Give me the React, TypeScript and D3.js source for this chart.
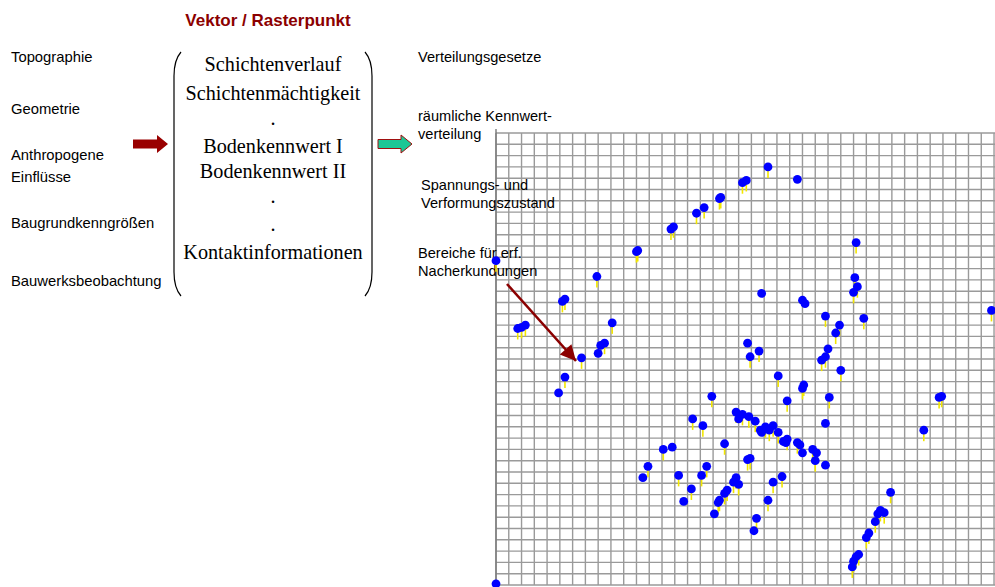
import React from "react";
import * as d3 from "d3";

const title = "Vektor / Rasterpunkt";
const leftLabels = [
  { lines: ["Topographie"], y: 57 },
  { lines: ["Geometrie"], y: 109 },
  { lines: ["Anthropogene", "Einflüsse"], y: 155 },
  { lines: ["Baugrundkenngrößen"], y: 223 },
  { lines: ["Bauwerksbeobachtung"], y: 281 },
];
const bracketItems = [
  { t: "Schichtenverlauf", y: 64 },
  { t: "Schichtenmächtigkeit", y: 93 },
  { t: ".", y: 118 },
  { t: "Bodenkennwert I", y: 146 },
  { t: "Bodenkennwert II", y: 171 },
  { t: ".", y: 196 },
  { t: ".", y: 224 },
  { t: "Kontaktinformationen", y: 252 },
];
const rightLabels = [
  { lines: ["Verteilungsgesetze"], x: 418, y: 57 },
  { lines: ["räumliche Kennwert-", "verteilung"], x: 418, y: 116 },
  { lines: ["Spannungs- und", "Verformungszustand"], x: 421, y: 185 },
  { lines: ["Bereiche für erf.", "Nacherkundungen"], x: 418, y: 253 },
];

// grid units: x columns from left edge, y rows from bottom
const pinX = [0.0, 0.0, 1.7, 2.0, 2.3, 5.2, 5.4, 7.9, 9.1, 8.2, 8.5, 8.0, 6.7, 5.4, 4.9,
  11.0, 11.1, 13.7, 13.9, 15.7, 16.3, 17.5, 17.6, 19.3, 19.6, 21.3, 23.6, 28.2,
  20.8, 24.0, 24.2, 28.1, 28.3, 28.0, 25.8, 26.9, 28.8, 26.6, 19.7, 19.9, 20.6,
  26.0, 25.8, 25.5, 27.0, 22.1, 24.1, 24.0, 26.1, 22.8, 38.8, 34.9, 34.7, 33.5,
  16.9, 15.4, 16.2, 17.9, 18.8, 19.0, 19.3, 19.8, 20.3, 20.7, 20.8, 21.1, 21.4,
  21.7, 22.1, 22.5, 22.7, 22.8, 19.7, 19.9, 25.8, 23.6, 23.8, 24.0, 24.8, 25.1,
  25.0, 25.8, 13.1, 13.8, 11.9, 11.5, 14.3, 16.5, 16.1, 15.3, 14.7, 17.4, 17.5,
  17.9, 18.1, 17.1, 18.6, 18.8, 19.0, 22.4, 21.7, 21.3, 20.4, 20.2,
  30.9, 30.1, 30.4, 29.9, 29.7, 29.2, 29.0, 28.4, 28.2, 28.0, 27.9];
const pinY = [28.7, 0.1, 22.7, 22.8, 23.0, 25.1, 25.3, 27.3, 23.2, 21.2, 21.4, 20.5, 20.1, 18.4, 17.0,
  29.5, 29.6, 31.5, 31.7, 32.9, 33.4, 34.2, 34.3, 35.6, 35.8, 37.0, 35.9, 30.3,
  25.8, 25.2, 24.9, 27.2, 26.4, 25.9, 23.8, 23.0, 23.6, 22.3, 21.4, 20.2, 20.7,
  20.9, 20.2, 19.9, 19.0, 18.5, 17.7, 17.4, 16.6, 16.3, 24.3, 16.7, 16.6, 13.7,
  16.7, 14.7, 14.1, 12.5, 15.3, 14.7, 15.1, 14.9, 14.5, 13.7, 13.5, 14.0, 13.7,
  14.1, 13.5, 12.7, 12.6, 12.9, 11.1, 11.2, 14.3, 12.6, 12.4, 11.7, 12.0, 11.7,
  11.0, 10.6, 12.0, 12.2, 10.5, 9.5, 9.7, 10.5, 9.7, 8.5, 7.4, 7.3, 7.5,
  8.1, 8.4, 6.3, 9.1, 9.5, 8.9, 9.6, 9.1, 7.5, 5.9, 4.8,
  8.2, 6.6, 6.4, 6.3, 5.6, 4.6, 4.2, 2.7, 2.5, 2.1, 1.6];
const pinStem = [1, 0, 1, 1, 1, 1, 1, 1, 1, 1, 1, 0, 1, 1, 0,
  1, 1, 1, 1, 1, 1, 1, 1, 1, 1, 1, 0, 1,
  0, 0, 0, 1, 1, 1, 1, 1, 1, 1, 0, 1, 1,
  1, 1, 1, 1, 1, 1, 1, 1, 1, 1, 1, 1, 1,
  1, 1, 1, 1, 1, 0, 1, 1, 1, 0, 0, 1, 1,
  1, 1, 0, 0, 1, 1, 1, 0, 1, 1, 0, 1, 1,
  1, 0, 1, 0, 1, 0, 1, 1, 1, 1, 0, 1, 1,
  1, 1, 0, 1, 1, 1, 1, 1, 1, 1, 0,
  1, 1, 1, 1, 1, 1, 1, 1, 1, 1, 1];

const NCOLS = 40;
const NROWS = 40;

export default function App() {
  const W = 995, H = 587;
  const gx0 = 496, gy0 = 585, cw = 12.77, rh = 11.3;
  const x = d3.scaleLinear().domain([0, NCOLS]).range([gx0, gx0 + NCOLS * cw]);
  const y = d3.scaleLinear().domain([0, NROWS]).range([gy0, gy0 - NROWS * rh]);
  const cols = d3.range(0, NCOLS + 1);
  const rows = d3.range(0, NROWS + 1);
  const sans = "Arial, 'Liberation Sans', sans-serif";
  const serif = "'Times New Roman', 'Liberation Serif', serif";
  const red = "#8b0000";

  const leftBracket = "M181,52 Q174,60 174,76 L174,272 Q174,288 181,296";
  const rightBracket = "M365,52 Q372,60 372,76 L372,272 Q372,288 365,296";

  const arrowShape = (x0: number, x1: number, cy: number) => {
    const head = 11;
    return `M${x0},${cy - 4.5} L${x1 - head},${cy - 4.5} L${x1 - head},${cy - 9} L${x1},${cy} L${x1 - head},${cy + 9} L${x1 - head},${cy + 4.5} L${x0},${cy + 4.5} Z`;
  };

  const pts = pinX.map((v, i) => ({ x: x(v), y: y(pinY[i]), s: pinStem[i] }));

  return (
    <svg width={W} height={H} style={{ position: "absolute", left: 0, top: 0, background: "#fff" }}>
      <rect x={0} y={0} width={W} height={H} fill="#fff" />
      <g>
        {cols.map((c) => (
          <line key={`c${c}`} x1={x(c)} x2={x(c)} y1={y(NROWS)} y2={y(0)} stroke="#9a9a9a" strokeWidth={1.4} />
        ))}
        {rows.map((r) => (
          <line key={`r${r}`} x1={x(0)} x2={W} y1={y(r)} y2={y(r)} stroke="#9a9a9a" strokeWidth={1.4} />
        ))}
        <line x1={x(0)} x2={x(0)} y1={y(NROWS) - 4} y2={H} stroke="#777" strokeWidth={1.4} />
      </g>
      <text x={268} y={20} textAnchor="middle" dominantBaseline="central" fontFamily={sans}
        fontWeight="bold" fontSize={17} fill={red}>{title}</text>
      {leftLabels.map((l, i) => l.lines.map((t, j) => (
        <text key={`l${i}-${j}`} x={11} y={l.y + j * 22} dominantBaseline="central" fontFamily={sans}
          fontSize={14.8} fill="#000">{t}</text>
      )))}
      <path d={leftBracket} fill="none" stroke="#000" strokeWidth={1.2} />
      <path d={rightBracket} fill="none" stroke="#000" strokeWidth={1.2} />
      {bracketItems.map((b, i) => (
        <text key={`b${i}`} x={273} y={b.y} textAnchor="middle" dominantBaseline="central"
          fontFamily={serif} fontSize={20.2} fill="#000">{b.t}</text>
      ))}
      <path d={arrowShape(133, 168, 144)} fill="#990000" />
      <path d={arrowShape(378, 412, 144)} fill="#1cc795" stroke="#a01010" strokeWidth={1} />
      {rightLabels.map((l, i) => l.lines.map((t, j) => (
        <text key={`r${i}-${j}`} x={l.x} y={l.y + j * 18} dominantBaseline="central" fontFamily={sans}
          fontSize={14.6} fill="#000">{t}</text>
      )))}
      <g>
        {pts.map((p, i) => p.s ? (
          <line key={`s${i}`} x1={p.x} x2={p.x} y1={p.y + 1} y2={p.y + 11} stroke="#f2e600" strokeWidth={1.6} />
        ) : null)}
        {pts.map((p, i) => (
          <circle key={`p${i}`} cx={p.x} cy={p.y} r={4.4} fill="#0000ff" />
        ))}
      </g>
      <defs>
        <marker id="ah" viewBox="0 0 10 10" refX={10} refY={5} markerWidth={7} markerHeight={6}
          markerUnits="strokeWidth" orient="auto">
          <path d="M0,0 L10,5 L0,10 Z" fill={red} />
        </marker>
      </defs>
      <line x1={507} y1={284} x2={576} y2={361} stroke={red} strokeWidth={2.6} markerEnd="url(#ah)" />
    </svg>
  );
}
